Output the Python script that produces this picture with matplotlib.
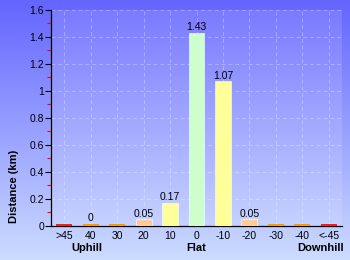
import numpy as np
import matplotlib
matplotlib.use("Agg")
import matplotlib.pyplot as plt
from matplotlib.ticker import MultipleLocator
from matplotlib.transforms import blended_transform_factory

categories = [">45", "40", "30", "20", "10", "0", "-10", "-20", "-30", "-40", "<-45"]
distance = [0, 0.004, 0, 0.05, 0.17, 1.43, 1.07, 0.05, 0, 0, 0]
bar_colors = ["#ff1a1a", "#ff9900", "#ff9900", "#ffcc99", "#ffff99", "#ccffcc",
              "#ffff99", "#ffcc99", "#ff9900", "#ff9900", "#ff1a1a"]
groups = ["Uphill", "Flat", "Downhill"]
group_pos = [0.85, 5, 9.7]

plt.rcParams["font.family"] = ["Liberation Sans", "DejaVu Sans"]

fig = plt.figure(figsize=(3.5, 2.6), dpi=100)

# gradient background
bg = fig.add_axes([0, 0, 1, 1], zorder=-2)
top = np.array([100, 100, 255]) / 255
bot = np.array([204, 220, 255]) / 255
t = np.linspace(0, 1, 256)[:, None]
grad = top + (bot - top) * t
bg.imshow(grad[:, None, :].repeat(2, axis=1), aspect="auto", extent=[0, 1, 0, 1])
bg.axis("off")

ax = fig.add_axes([0.146, 0.131, 0.831, 0.831])
ax.set_facecolor((1, 1, 1, 0.12))

x = np.arange(len(categories))
shown = [max(v, 0.015) for v in distance]
edges = ["none" if v < 0.01 else (1, 1, 1, 0.8) for v in distance]
ax.bar(x, shown, width=0.6, color=bar_colors, edgecolor=edges, linewidth=0.5, zorder=3)
for i, v in enumerate(distance):
    if v > 0:
        lab = f"{v:.2f}".rstrip("0").rstrip(".") if v >= 0.01 else "0"
        ax.text(i, shown[i] + 0.005, lab, ha="center", va="bottom", fontsize=7.5, zorder=4)

ax.set_xlim(-0.5, len(categories) - 0.5)
ax.set_ylim(0, 1.6)
ax.set_xticks(x)
ax.set_xticklabels(categories, fontsize=7.5)
ax.tick_params(axis="x", length=0, pad=4)
ax.yaxis.set_minor_locator(MultipleLocator(0.1))
yt = np.arange(0, 1.61, 0.2).round(1)
ax.set_yticks(yt)
ax.set_yticklabels([f"{v:g}" for v in yt], fontsize=7.5)
ax.tick_params(axis="y", which="major", length=4, width=0.8, pad=1)
ax.tick_params(axis="y", which="minor", length=3, width=0.8, color="red")

ax.grid(True, color="white", alpha=0.3, linestyle=(0, (4, 3)), linewidth=0.7, zorder=0)
for s in ["top", "right"]:
    ax.spines[s].set_visible(False)
ax.spines["left"].set_linewidth(0.9)
ax.spines["bottom"].set_linewidth(0.9)

trans = blended_transform_factory(ax.transData, fig.transFigure)
for g, p in zip(groups, group_pos):
    ax.text(p, 0.046, g, transform=trans, ha="center", va="center",
            fontsize=8, fontweight="bold")

fig.text(0.04, 0.285, "Distance (km)", rotation=90, ha="center", va="center",
         fontsize=8, fontweight="bold")

fig.savefig("out.png", dpi=100)
